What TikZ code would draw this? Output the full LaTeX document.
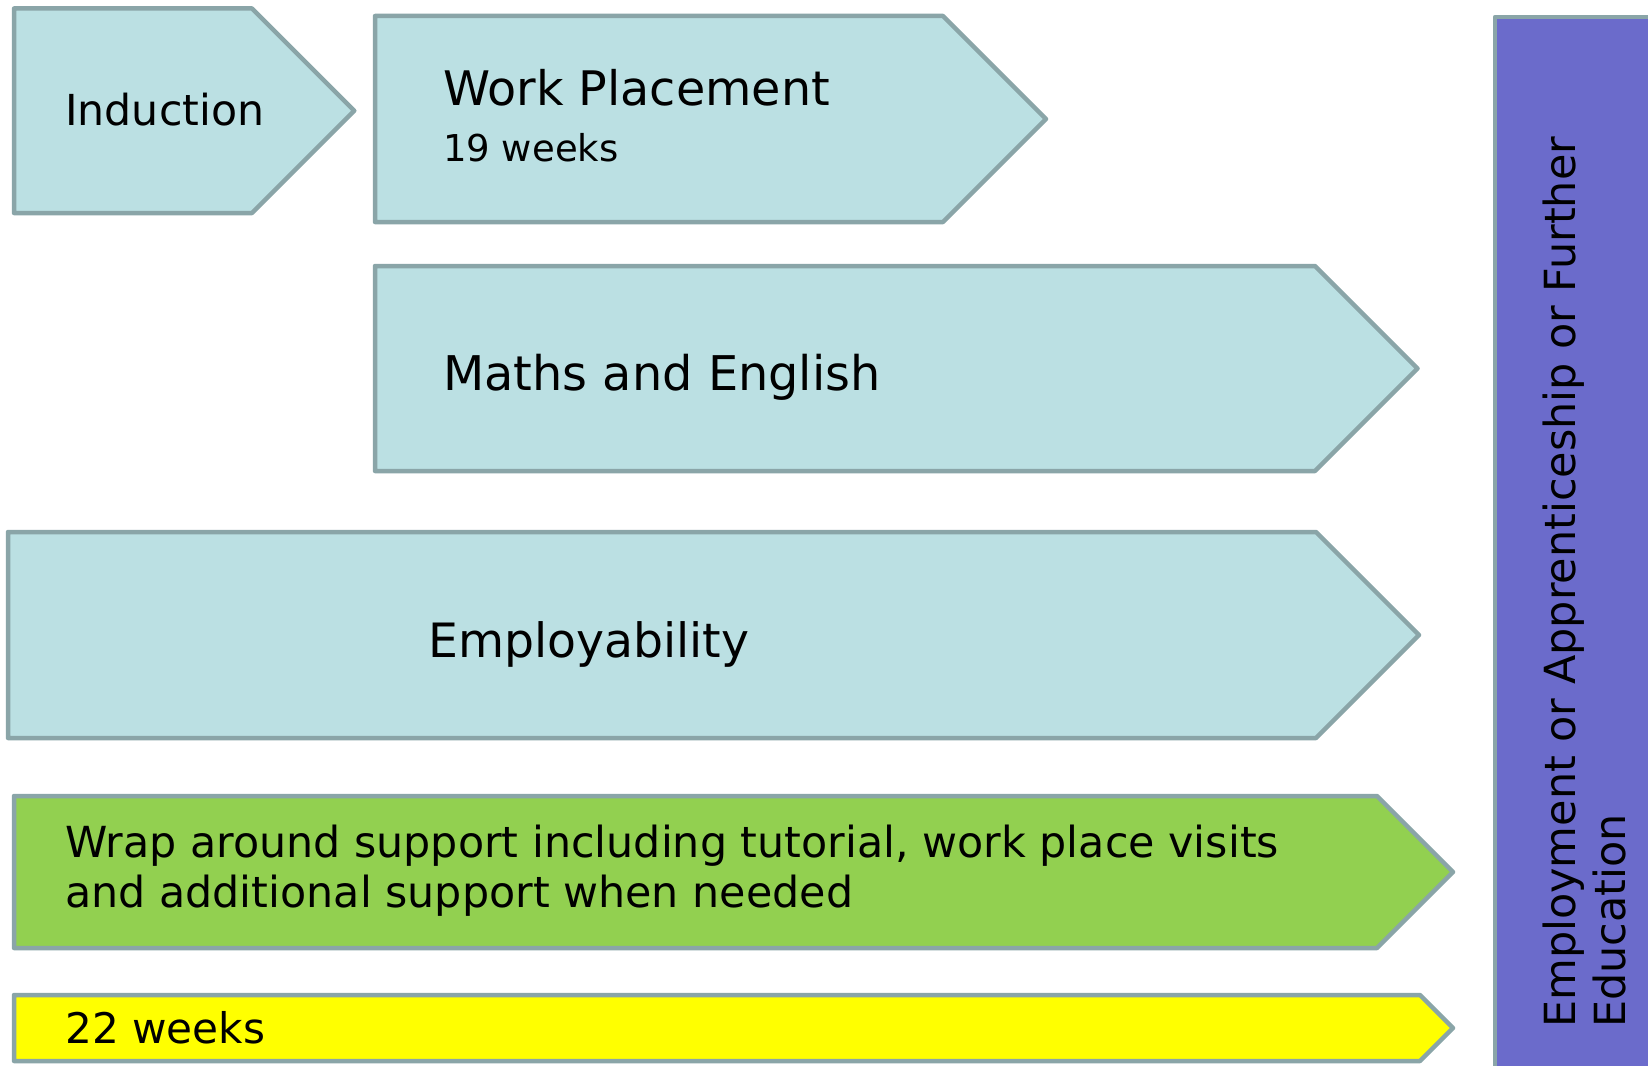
\documentclass[tikz,border=0pt]{standalone}
\usepackage{fontspec}
\setmainfont{DejaVu Sans}
\definecolor{bandblue}{HTML}{BBE0E3}
\definecolor{bandedge}{HTML}{8AA5A8}
\definecolor{bandgreen}{HTML}{92D050}
\definecolor{bandyellow}{HTML}{FFFF00}
\definecolor{goalpurple}{HTML}{6B6BCB}
\tikzset{
  band/.style={draw=bandedge, line width=4.5pt, line join=round},
  lbl/.style={inner sep=0pt, anchor=base west, text=black},
}
% chevron: left, right, top, bottom, fill
\newcommand{\chevron}[5]{%
  \pgfmathsetmacro{\cmid}{(#3+#4)/2}%
  \pgfmathsetmacro{\ctip}{#2+(#4-#3)/2}%
  \fill[#5] (#1,#3) -- (#2,#3) -- (\ctip,\cmid) -- (#2,#4) -- (#1,#4) -- cycle;
  \draw[band] (#1,#3) -- (#2,#3) -- (\ctip,\cmid) -- (#2,#4) -- (#1,#4) -- cycle;
}
\begin{document}
\begin{tikzpicture}[x=1pt,y=-1pt]
\useasboundingbox (0,0) rectangle (1648,1065);
\clip (0,0) rectangle (1648,1065);
\fill[white] (0,0) rectangle (1648,1065);

\chevron{14}{252}{8.5}{213}{bandblue}
\chevron{375}{943}{16}{222}{bandblue}
\chevron{375}{1315}{266}{471}{bandblue}
\chevron{8}{1316}{532}{738}{bandblue}
\chevron{14}{1377}{796}{948}{bandgreen}
\chevron{14}{1420}{995}{1061}{bandyellow}

% destination column
\fill[goalpurple] (1495,17) rectangle (1670,1080);
\draw[band] (1495,1080) -- (1495,17) -- (1670,17);

\node[lbl, font=\fontsize{42.7}{50}\selectfont] (induction) at (65,125) {Induction};
\node[lbl, font=\fontsize{47.6}{56}\selectfont] (work) at (443,105) {Work Placement};
\node[lbl, font=\fontsize{37}{44}\selectfont] (weeks19) at (443,161) {19 weeks};
\node[lbl, font=\fontsize{47.8}{56}\selectfont] (maths) at (443,390) {Maths and English};
\node[lbl, font=\fontsize{47.3}{56}\selectfont] (employ) at (428,657) {Employability};
\node[lbl, font=\fontsize{42.8}{50}\selectfont] (wrapa) at (65,857) {Wrap around support including tutorial, work place visits};
\node[lbl, font=\fontsize{42.8}{50}\selectfont] (wrapb) at (65,907) {and additional support when needed};
\node[lbl, font=\fontsize{42.2}{50}\selectfont] (weeks22) at (65,1043) {22 weeks};

\node[lbl, rotate=90, font=\fontsize{42.9}{50}\selectfont] (goala) at (1575,1028) {Employment or Apprenticeship or Further};
\node[lbl, rotate=90, font=\fontsize{42.9}{50}\selectfont] (goalb) at (1625,1028) {Education};
\end{tikzpicture}
\end{document}
